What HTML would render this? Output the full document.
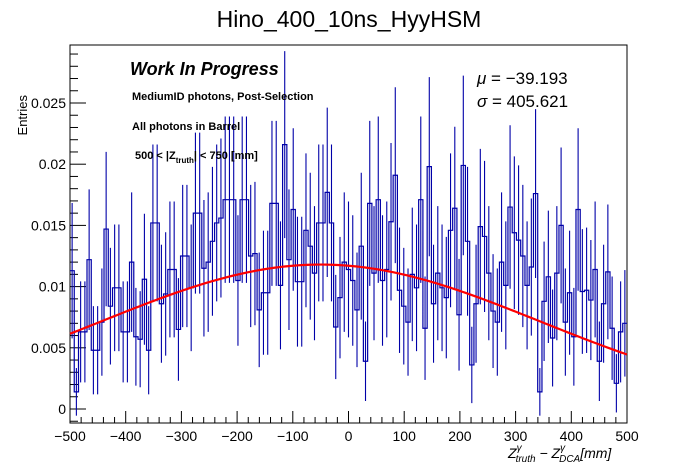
<!DOCTYPE html>
<html><head><meta charset="utf-8"><style>
body{margin:0;background:#fff;}
svg{display:block;font-family:"Liberation Sans",sans-serif;}
</style></head><body>
<svg id="c" width="698" height="474" viewBox="0 0 698 474">
<rect width="698" height="474" fill="#fff"/>
<text x="349" y="27" font-size="23" text-anchor="middle">Hino_400_10ns_HyyHSM</text>
<rect x="70" y="45" width="557" height="378" fill="none" stroke="#000" stroke-width="1"/>
<g id="axes"></g>
<g id="bars"></g>
<g id="fit"></g>
<text x="27" y="95" font-size="13" text-anchor="end" transform="rotate(-90 27 95)">Entries</text>
<text x="508" y="458" font-size="14" font-style="italic">Z<tspan font-size="10" dy="-7">γ</tspan><tspan font-size="10" dx="-6" dy="11">truth</tspan><tspan dy="-4"> − Z</tspan><tspan font-size="10" dy="-7">γ</tspan><tspan font-size="10" dx="-6" dy="11">DCA</tspan><tspan dy="-4">[mm]</tspan></text>
<text x="130" y="75" font-size="18" font-weight="bold" font-style="italic">Work In Progress</text>
<text x="132" y="100" font-size="11" font-weight="bold">MediumID photons, Post-Selection</text>
<text x="132" y="130" font-size="11" font-weight="bold">All photons in Barrel</text>
<text x="135" y="159" font-size="11" font-weight="bold">500 &lt; |Z<tspan font-size="8" dy="4">truth</tspan><tspan dy="-4">| &lt; 750 [mm]</tspan></text>
<text x="477" y="84" font-size="17"><tspan font-style="italic">μ</tspan> = −39.193</text>
<text x="477" y="107" font-size="17"><tspan font-style="italic">σ</tspan> = 405.621</text>
</svg>
<script>
const xTicks=[-500,-400,-300,-200,-100,0,100,200,300,400,500];
const yTicks=[0,0.005,0.01,0.015,0.02,0.025];
const yTickLabels=["0","0.005","0.01","0.015","0.02","0.025"];
const binValues=[0.0113,0.0014,0.0063,0.0063,0.0122,0.0048,0.0048,0.0071,0.0147,0.0084,0.0099,0.0099,0.0063,0.0063,0.0120,0.0059,0.0057,0.0106,0.0048,0.0152,0.0152,0.0086,0.0094,0.0114,0.0114,0.0065,0.0125,0.0125,0.0099,0.0160,0.0160,0.0115,0.0120,0.0137,0.0152,0.0156,0.0171,
0.0171,0.0171,0.0105,0.0171,0.0171,0.0125,0.0127,0.0081,0.0095,0.0095,0.0168,0.0168,0.0101,0.0216,0.0122,0.0163,0.0104,0.0104,0.0146,0.0133,0.0111,0.0152,0.0152,0.0177,0.0152,0.0067,0.0091,0.0120,0.0114,0.0105,0.0081,0.0133,0.0039,0.0168,0.0111,
0.0171,0.0105,0.0114,0.0153,0.0191,0.0097,0.0084,0.0071,0.0110,0.0099,0.0171,0.0066,0.0198,0.0086,0.0111,0.0099,0.0091,0.0146,0.0164,0.0077,0.0199,0.0137,0.0036,0.0086,0.0149,0.0141,0.0111,0.0080,
0.0071,0.0120,0.0101,0.0165,0.0144,0.0138,0.0125,0.0101,0.0116,0.0176,0.0014,0.0088,0.0108,0.0058,0.0111,0.0150,0.0071,0.0095,0.0059,0.0163,0.0096,0.0097,0.0089,0.0114,0.0039,0.0086,0.0112,0.0066,0.0021,0.0063,0.0070];
const fitAmp=[0.0118];
const fitMean=[-50];
const fitSigma=[394];
const NS="http://www.w3.org/2000/svg";
const X0=70,X1=627,YB=409,YT=103;
const xs=v=>X0+(v+500)/1000*(X1-X0);
const ys=v=>YB-(v/0.025)*(YB-YT);
function mk(t,a,p){const e=document.createElementNS(NS,t);for(const k in a)e.setAttribute(k,a[k]);p.appendChild(e);return e;}
const ax=document.getElementById('axes');
for(let v=-500;v<=500;v+=20){const l=mk('line',{x1:xs(v),x2:xs(v),y1:423,y2:(v%100===0)?411:417,stroke:'#000'},ax);

}
xTicks.forEach(v=>{const t=mk('text',{x:xs(v),y:441,'font-size':14,'text-anchor':'middle'},ax);t.textContent=(v<0?'−':'')+Math.abs(v);

});
for(let v=-0.001;v<=0.0295;v+=0.001){const y=ys(v);if(y<45||y>423)continue;const major=Math.abs(Math.round(v*1000)%5)===0;
const l=mk('line',{x1:70,x2:major?86:78,y1:y,y2:y,stroke:'#000'},ax);

}
yTicks.forEach((v,i)=>{const t=mk('text',{x:66,y:ys(v)+5,'font-size':14,'text-anchor':'end'},ax);t.textContent=yTickLabels[i];

});
const bg=document.getElementById('bars');
const n=binValues.length,bw=1000/n;
let d='';
binValues.forEach((v,i)=>{const xa=xs(-500+i*bw),xb=xs(-500+(i+1)*bw),y=ys(v);
d+=(i===0?'M'+xa+','+y:'L'+xa+','+y)+'L'+xb+','+y;
const err=0.052*Math.sqrt(v);const xm=(xa+xb)/2;
const e=mk('line',{x1:xm,x2:xm,y1:Math.min(ys(v-err),423),y2:Math.max(ys(v+err),45),stroke:'#0000a8','stroke-width':1.1},bg);

});
const hp=mk('path',{d:d,fill:'none',stroke:'#0000a8','stroke-width':1.2},bg);


const fg=document.getElementById('fit');
let fd='';
for(let x=-500;x<=500;x+=5){const v=fitAmp[0]*Math.exp(-Math.pow(x-fitMean[0],2)/(2*fitSigma[0]*fitSigma[0]));fd+=(x===-500?'M':'L')+xs(x)+','+ys(v);}
const fp=mk('path',{d:fd,fill:'none',stroke:'#ff0000','stroke-width':2.2},fg);


</script>
</body></html>
